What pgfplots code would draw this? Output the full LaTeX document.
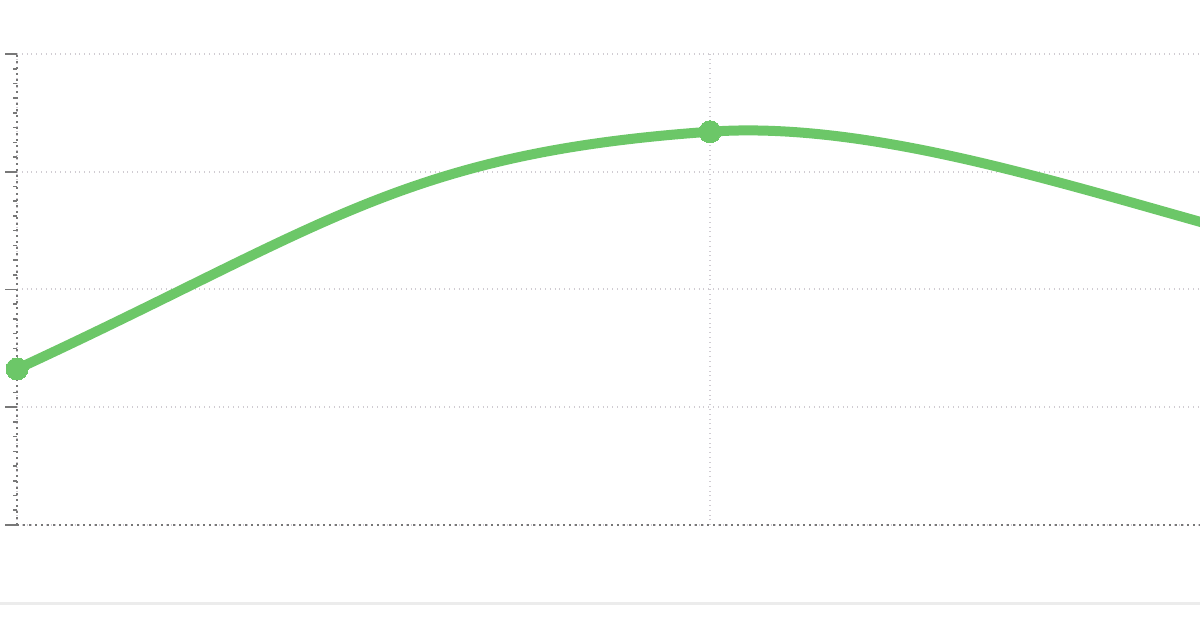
\documentclass[border=0pt]{standalone}
\usepackage{pgfplots}
\pgfplotsset{compat=1.18}
\definecolor{linegreen}{RGB}{108,199,104}
\definecolor{gridgray}{RGB}{208,204,210}
\definecolor{axisgray}{RGB}{120,120,120}
\definecolor{rulegray}{RGB}{236,236,236}
\begin{document}
\begin{tikzpicture}
% 1 px of the reference = 0.5pt
\begin{axis}[
    at={(8.5pt,51.5pt)},
    anchor=south west,
    scale only axis,
    width=591.5pt,
    height=235.5pt,
    xmin=0, xmax=1.7071,
    ymin=0, ymax=4,
    axis lines=left,
    axis line style={axisgray, dotted, line width=1pt, -},
    xtick={0,1},
    ytick={0,1,2,3,4},
    minor y tick num=7,
    xticklabels={},
    yticklabels={},
    tick style={axisgray, line width=0.8pt},
    major tick length=6pt,
    minor tick length=2pt,
    x tick style={draw=none},
    tick align=outside,
    ymajorgrids, xmajorgrids,
    grid style={gridgray, dotted, line width=1pt},
    minor grid style={draw=none},
]
% the series runs on past both edges of the visible window;
% the two halves are smoothed with a different tension
\begin{scope}
\clip (axis cs:-0.5,-1) rectangle (axis cs:1,5);
\addplot[linegreen, line width=5pt, smooth, tension=0.8]
    coordinates {(-1,-2.1) (0,1.325) (1,3.34) (2,2.15)};
\end{scope}
\begin{scope}
\clip (axis cs:1,-1) rectangle (axis cs:2.5,5);
\addplot[linegreen, line width=5pt, smooth, tension=0.55]
    coordinates {(0,1.325) (1,3.34) (2,2.15) (3,1.20)};
\end{scope}
\addplot[only marks, mark=*, mark size=5.5pt,
    mark options={fill=linegreen, draw=linegreen, line width=0pt}]
    coordinates {(0,1.325) (1,3.34)};
\end{axis}
\draw[rulegray, line width=1.5pt] (0,12.5pt) -- (600pt,12.5pt);
\pgfresetboundingbox
\path[use as bounding box] (0,0) rectangle (600pt,314pt);
\end{tikzpicture}
\end{document}
